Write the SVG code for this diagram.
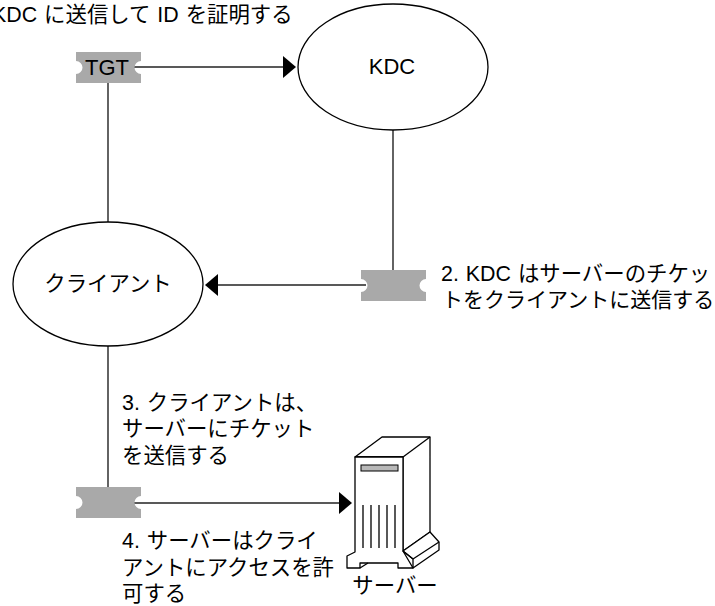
<svg xmlns="http://www.w3.org/2000/svg" width="715" height="606" viewBox="0 0 715 606">
<style>
text{font-family:"Liberation Sans","Noto Sans CJK JP",sans-serif;font-size:21.400px;fill:#000;word-spacing:1px}
.l{stroke:#222;stroke-width:1.4;fill:none}
.e{stroke:#000;stroke-width:1.3;fill:#fff}
.t{fill:#a9a9a9}
.s{stroke:#000;stroke-width:1.3;fill:#fff;stroke-linejoin:round}
</style>
<defs>
<path id="ticket" d="M0 0H65V9A6.500 6.500 0 0 0 65 22V31H0V22A6.500 6.500 0 0 0 0 9Z"/>
</defs>
<g id="connectors">
<path class="l" d="M108 82V222"/>
<path class="l" d="M133 67H284"/>
<path d="M296 67L283 56V78Z" fill="#000"/>
<path class="l" d="M393 130V270"/>
<path class="l" d="M217 285H366"/>
<path d="M205 285L218 274V296Z" fill="#000"/>
<path class="l" d="M108 345V487"/>
<path class="l" d="M133 503H342"/>
<path d="M352 503L339 492V514Z" fill="#000"/>
</g>
<g id="label-1"><text x="-8" y="22">KDC に送信して ID を証明する</text></g>
<g id="ticket-tgt"><use href="#ticket" class="t" x="76" y="52"/><text x="107" y="75" text-anchor="middle" style="font-size:22px">TGT</text></g>
<g id="kdc"><ellipse class="e" cx="393" cy="67" rx="95" ry="63"/><text x="392" y="74" text-anchor="middle" style="font-size:22px">KDC</text></g>
<g id="client"><ellipse class="e" cx="108" cy="284" rx="95" ry="62"/><text x="108" y="291" text-anchor="middle">クライアント</text></g>
<g id="ticket-2"><use href="#ticket" class="t" x="361" y="270"/></g>
<g id="label-2"><text x="441" y="281">2. KDC はサーバーのチケッ</text><text x="442" y="307" style="font-size:21px">トをクライアントに送信する</text></g>
<g id="label-3"><text x="122" y="410">3. クライアントは、</text><text x="122" y="436">サーバーにチケット</text><text x="122" y="463">を送信する</text></g>
<g id="ticket-3"><use href="#ticket" class="t" x="76" y="487"/></g>
<g id="label-4"><text x="122" y="548">4. サーバーはクライ</text><text x="122" y="575">アントにアクセスを許</text><text x="122" y="601">可する</text></g>
<g id="server">
<path class="s" d="M355 457L382 437H430V532L403 551V457Z"/>
<path class="s" d="M355 457H403"/>
<path class="s" d="M403 457L430 437"/>
<path class="s" d="M355 457H403V551L413 568H398V563H360V568H347V556L355 552Z"/>
<path class="s" d="M403 551L430 532L439 542V550L413 568V559Z"/>
<path class="s" d="M413 559L439 542"/>
<path class="s" d="M403 551L413 559"/>
<path class="s" d="M360 568L368 563"/>
<rect x="361" y="465" width="37" height="6" fill="#b8b8b8" stroke="#000"/>
<path class="s" d="M363 505V548M371 505V548M379 505V548M387 505V548M395 505V548"/>
<text x="395" y="593" text-anchor="middle">サーバー</text>
</g>
</svg>
